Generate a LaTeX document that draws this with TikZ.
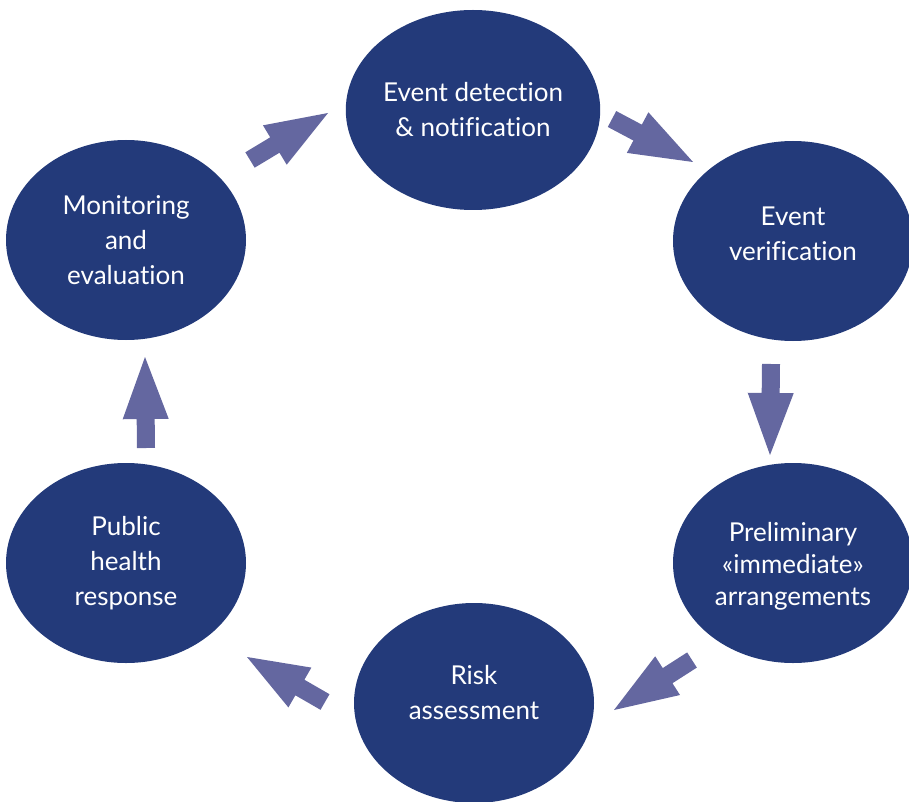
\documentclass[tikz,border=0pt]{standalone}
\usepackage{fontspec}
\setmainfont{Lato}[Ligatures=NoCommon]
\usepackage{tikz}
\usetikzlibrary{positioning,calc,shapes.geometric}

\definecolor{stagecol}{RGB}{35,58,122}
\definecolor{arrowcol}{RGB}{100,103,160}

\tikzset{
  stage/.style={ellipse,fill=stagecol,text=white,inner sep=0pt,
    minimum width=240pt,minimum height=200pt,align=center,
    font=\fontsize{26}{35}\selectfont},
}

% block arrow from tail #1 to tip #2
\newcommand{\flowarrow}[2]{%
  \coordinate (neck) at ($(#1)!29pt!(#2)$);
  \fill[arrowcol] ($(#1)!9pt!90:(#2)$) -- ($(neck)!9pt!90:(#2)$)
    -- ($(neck)!23pt!90:(#2)$) -- (#2) -- ($(neck)!23pt!-90:(#2)$)
    -- ($(neck)!9pt!-90:(#2)$) -- ($(#1)!9pt!-90:(#2)$) -- cycle;}

\begin{document}
\begin{tikzpicture}[x=1pt,y=-1pt]
\useasboundingbox (0,0) rectangle (909,802);

% The six stages
\node[stage] (det) at (473,110) {Event detection\\\& notification};
\node[stage,text depth=0pt] (ver) at (793,241) {};
\node[stage] (pre) at (793,563) {};
\node[stage] (risk) at (474,703) {};
\node[stage] (pub) at (126,563) {Public\\health\\response};
\node[stage] (mon) at (126,240) {Monitoring\\and\\evaluation};

% Labels placed off centre
\node[align=center,text=white,font=\fontsize{26}{35}\selectfont]
  (verL) at ($(ver)+(0,-7)$) {Event\\verification};
\node[align=center,text=white,font=\fontsize{26}{32}\selectfont]
  (preL) at ($(pre)+(0,3)$) {Preliminary\\«immediate»\\arrangements};
\node[align=center,text=white,font=\fontsize{26}{35}\selectfont]
  (riskL) at ($(risk)+(0,-10)$) {Risk\\assessment};

% Tails and tips of the arrows
\coordinate (monT) at (250,160);  \coordinate (monH) at (328,113);
\coordinate (detT) at (612,119);  \coordinate (detH) at (693,162);
\coordinate (verT) at (771,364);  \coordinate (verH) at (770,455);
\coordinate (preT) at (692,660);  \coordinate (preH) at (614,710);
\coordinate (riskT) at (325,702); \coordinate (riskH) at (247,657);
\coordinate (pubT) at (146,448);  \coordinate (pubH) at (145,357);

% Draw the arrows
\flowarrow{monT}{monH}
\flowarrow{detT}{detH}
\flowarrow{verT}{verH}
\flowarrow{preT}{preH}
\flowarrow{riskT}{riskH}
\flowarrow{pubT}{pubH}

\end{tikzpicture}
\end{document}
